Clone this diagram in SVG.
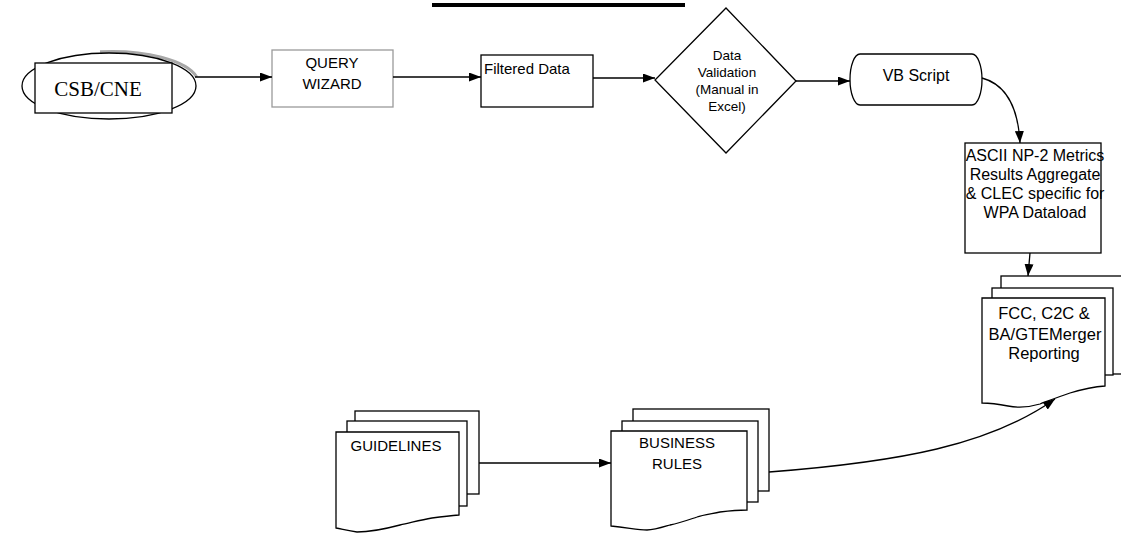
<svg xmlns="http://www.w3.org/2000/svg" width="1121" height="533" viewBox="0 0 1121 533">
  <style>
    .shape { fill: #ffffff; stroke: #000000; stroke-width: 1.3; }
    .soft { fill: #ffffff; stroke: #9a9a9a; stroke-width: 1.3; }
    .lbl { font-family: "Liberation Sans", Arial, sans-serif; fill: #000000; text-anchor: middle; }
    .lbl-left { font-family: "Liberation Sans", Arial, sans-serif; fill: #000000; text-anchor: start; }
    .conn { fill: none; stroke: #000000; stroke-width: 1.3; }
  </style>
  <defs>
    <marker id="arrow" markerWidth="12" markerHeight="9" refX="12" refY="4.5" orient="auto" markerUnits="userSpaceOnUse">
      <path d="M0,0 L12,4.5 L0,9 Z" fill="#000000"/>
    </marker>
  </defs>

  <rect width="1121" height="533" fill="#ffffff"/>

  <!-- title underline -->
  <rect x="432" y="3" width="253" height="4" fill="#000000"/>

  <!-- source: CSB/CNE -->
  <g id="csb-cne">
    <path d="M100,51.8 A87,33 0 0 1 196.7,77" fill="none" stroke="#a8a8a8" stroke-width="3"/>
    <ellipse cx="109" cy="86" rx="87" ry="33" class="shape"/>
    <rect x="35" y="63" width="137" height="50" class="shape"/>
    <text x="98" y="96" font-family="Liberation Serif, 'Times New Roman', serif" font-size="21" text-anchor="middle">CSB/CNE</text>
  </g>

  <g id="query-wizard">
    <rect x="272" y="50" width="121" height="57" class="soft"/>
    <text class="lbl" x="332" y="68" font-size="15">QUERY</text>
    <text class="lbl" x="332" y="89" font-size="15">WIZARD</text>
  </g>

  <g id="filtered-data">
    <rect x="481" y="55" width="112" height="52" class="shape"/>
    <text class="lbl-left" x="484" y="74" font-size="15">Filtered Data</text>
  </g>

  <g id="data-validation">
    <polygon points="726,8 796,81 726,153 655,80" class="shape"/>
    <text class="lbl" x="727" y="60" font-size="13.5">Data</text>
    <text class="lbl" x="727" y="77" font-size="13.5">Validation</text>
    <text class="lbl" x="727" y="94" font-size="13.5">(Manual in</text>
    <text class="lbl" x="727" y="111" font-size="13.5">Excel)</text>
  </g>

  <g id="vb-script">
    <path d="M860,54 H972 A10,25.5 0 0 1 972,105 H860 A10,25.5 0 0 1 860,54 Z" class="shape"/>
    <text class="lbl" x="916" y="81" font-size="16">VB Script</text>
  </g>

  <g id="ascii-metrics">
    <rect x="965" y="143" width="136" height="110" class="shape"/>
    <text class="lbl" x="1035" y="161" font-size="16">ASCII NP-2 Metrics</text>
    <text class="lbl" x="1035" y="180" font-size="16">Results Aggregate</text>
    <text class="lbl" x="1035" y="199" font-size="16">&amp; CLEC specific for</text>
    <text class="lbl" x="1035" y="218" font-size="16">WPA Dataload</text>
  </g>

  <g id="fcc-reporting">
    <rect x="1001" y="276" width="125" height="98" class="shape"/>
    <rect x="992" y="288" width="121" height="87" class="shape"/>
    <path d="M982,298 H1105 V386 C1090,387 1080,390 1070,393 C1058,397 1048,401 1040,404 C1030,407 1018,408 1008,406 C998,404 990,403 982,403 Z" class="shape"/>
    <text class="lbl" x="1044" y="319" font-size="16.5">FCC, C2C &amp;</text>
    <text class="lbl" x="1045" y="340" font-size="16.5">BA/GTEMerger</text>
    <text class="lbl" x="1044" y="359" font-size="16.5">Reporting</text>
  </g>

  <g id="guidelines">
    <rect x="355" y="411" width="124" height="83" class="shape"/>
    <rect x="347" y="421" width="120" height="85" class="shape"/>
    <path d="M336,432 H459 V515 C448,516 440,517 432,518 C420,520 410,523 400,525 C385,529 372,532 357,532 C348,531 342,529 336,528 Z" class="shape"/>
    <text class="lbl" x="396" y="451" font-size="15">GUIDELINES</text>
  </g>

  <g id="business-rules">
    <rect x="633" y="409" width="136" height="82" class="shape"/>
    <rect x="622" y="421" width="136" height="81" class="shape"/>
    <path d="M611,431 H747 V510 C738,510 728,511 720,512 C710,514 702,515 697,517 C688,520 680,523 670,525 C660,528 654,530 647,530 C638,530 630,528 611,526 Z" class="shape"/>
    <text class="lbl" x="677" y="448" font-size="15">BUSINESS</text>
    <text class="lbl" x="677" y="469" font-size="15">RULES</text>
  </g>

  <g id="connectors">
    <path class="conn" d="M195,77 H272" marker-end="url(#arrow)"/>
    <path class="conn" d="M393,77 H481" marker-end="url(#arrow)"/>
    <path class="conn" d="M593,78 H655" marker-end="url(#arrow)"/>
    <path class="conn" d="M796,81 H850" marker-end="url(#arrow)"/>
    <path class="conn" d="M982,78 C1004,84 1018,104 1020,143" marker-end="url(#arrow)"/>
    <path class="conn" d="M1030,253 L1028,276" marker-end="url(#arrow)"/>
    <path class="conn" d="M479,463 H611" marker-end="url(#arrow)"/>
    <path class="conn" d="M769,472 C900,462 990,445 1055,399" marker-end="url(#arrow)"/>
  </g>
</svg>
